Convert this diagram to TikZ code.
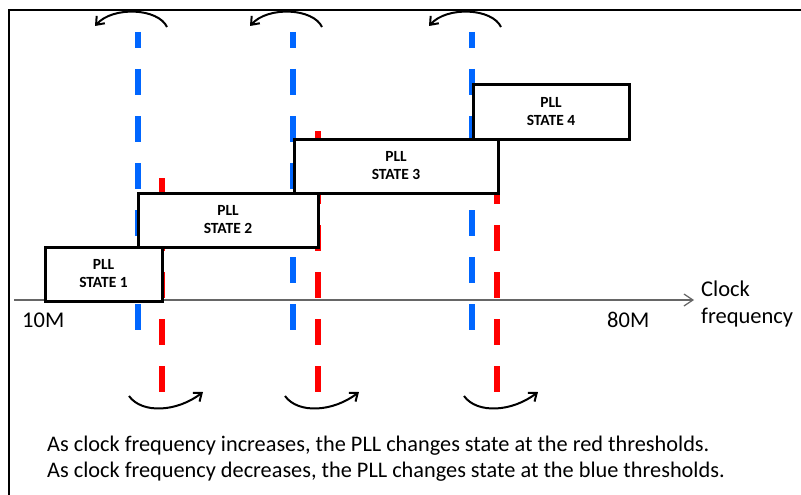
\documentclass[tikz,border=0pt]{standalone}
\usepackage{fontspec}
\setmainfont{Carlito}
\usetikzlibrary{arrows.meta}

\definecolor{thrblue}{RGB}{0,102,255}
\definecolor{thrred}{RGB}{255,0,0}

\begin{document}
\begin{tikzpicture}[x=1pt,y=-1pt,
  pllbox/.style={draw,line width=3pt,fill=white,minimum height=54pt,align=center,
    font=\fontsize{15.5}{18}\selectfont\bfseries},
  bluethr/.style={thrblue,line width=5.5pt,dash pattern=on 26pt off 21pt,dash phase=10pt},
  redthr/.style={thrred,line width=5.5pt,dash pattern=on 26pt off 21pt},
  hoparrow/.style={line width=2pt,-{Straight Barb[length=7pt,width=11pt]}},
  axlabel/.style={anchor=base west,inner sep=0pt,font=\fontsize{22.5}{26}\selectfont}]
  \useasboundingbox (0,0) rectangle (801,495);
  % frame
  \draw[line width=2pt] (8.5,495) -- (8.5,10.5) -- (801,10.5);
  % thresholds, blue = going down, red = going up
  \draw[bluethr] (138,32) -- (138,332);
  \draw[bluethr] (293,32) -- (293,332);
  \draw[bluethr] (472,32) -- (472,332);
  \draw[redthr] (162,178) -- (162,393);
  \draw[redthr] (318,131) -- (318,393);
  \draw[redthr] (497,84) -- (497,393);
  % axis
  \coordinate (ax0) at (14,300); \coordinate (ax1) at (694,300);
  \draw[gray!80!black,line width=1.2pt,-{Straight Barb[length=9pt,width=12pt]}] (ax0) -- (ax1);
  % states
  \node[pllbox,minimum width=117pt] (s1) at (103.5,274) {PLL\\STATE 1};
  \node[pllbox,minimum width=180pt] (s2) at (228,220) {PLL\\STATE 2};
  \node[pllbox,minimum width=204pt] (s3) at (396,166) {PLL\\STATE 3};
  \node[pllbox,minimum width=156pt] (s4) at (551,112) {PLL\\STATE 4};
  % hops
  \draw[hoparrow] (167,27) .. controls (158,8) and (113,6) .. (95,26);
  \draw[hoparrow] (322,27) .. controls (313,8) and (268,6) .. (250,26);
  \draw[hoparrow] (501,27) .. controls (492,8) and (447,6) .. (429,26);
  \draw[hoparrow] (129,396) .. controls (142,414) and (177,412) .. (203,392);
  \draw[hoparrow] (285,396) .. controls (298,414) and (333,412) .. (359,392);
  \draw[hoparrow] (464,396) .. controls (477,414) and (512,412) .. (538,392);
  % labels
  \node[axlabel] (lo) at (22,327) {10M};
  \node[axlabel] (hi) at (607,327) {80M};
  \node[axlabel] (clk) at (701,296) {Clock};
  \node[axlabel] (frq) at (701,323) {frequency};
  \node[axlabel,font=\fontsize{22.3}{26}\selectfont] (up) at (47,451)
    {As clock frequency increases, the PLL changes state at the red thresholds.};
  \node[axlabel,font=\fontsize{22.3}{26}\selectfont] (down) at (47,477)
    {As clock frequency decreases, the PLL changes state at the blue thresholds.};
\end{tikzpicture}
\end{document}
